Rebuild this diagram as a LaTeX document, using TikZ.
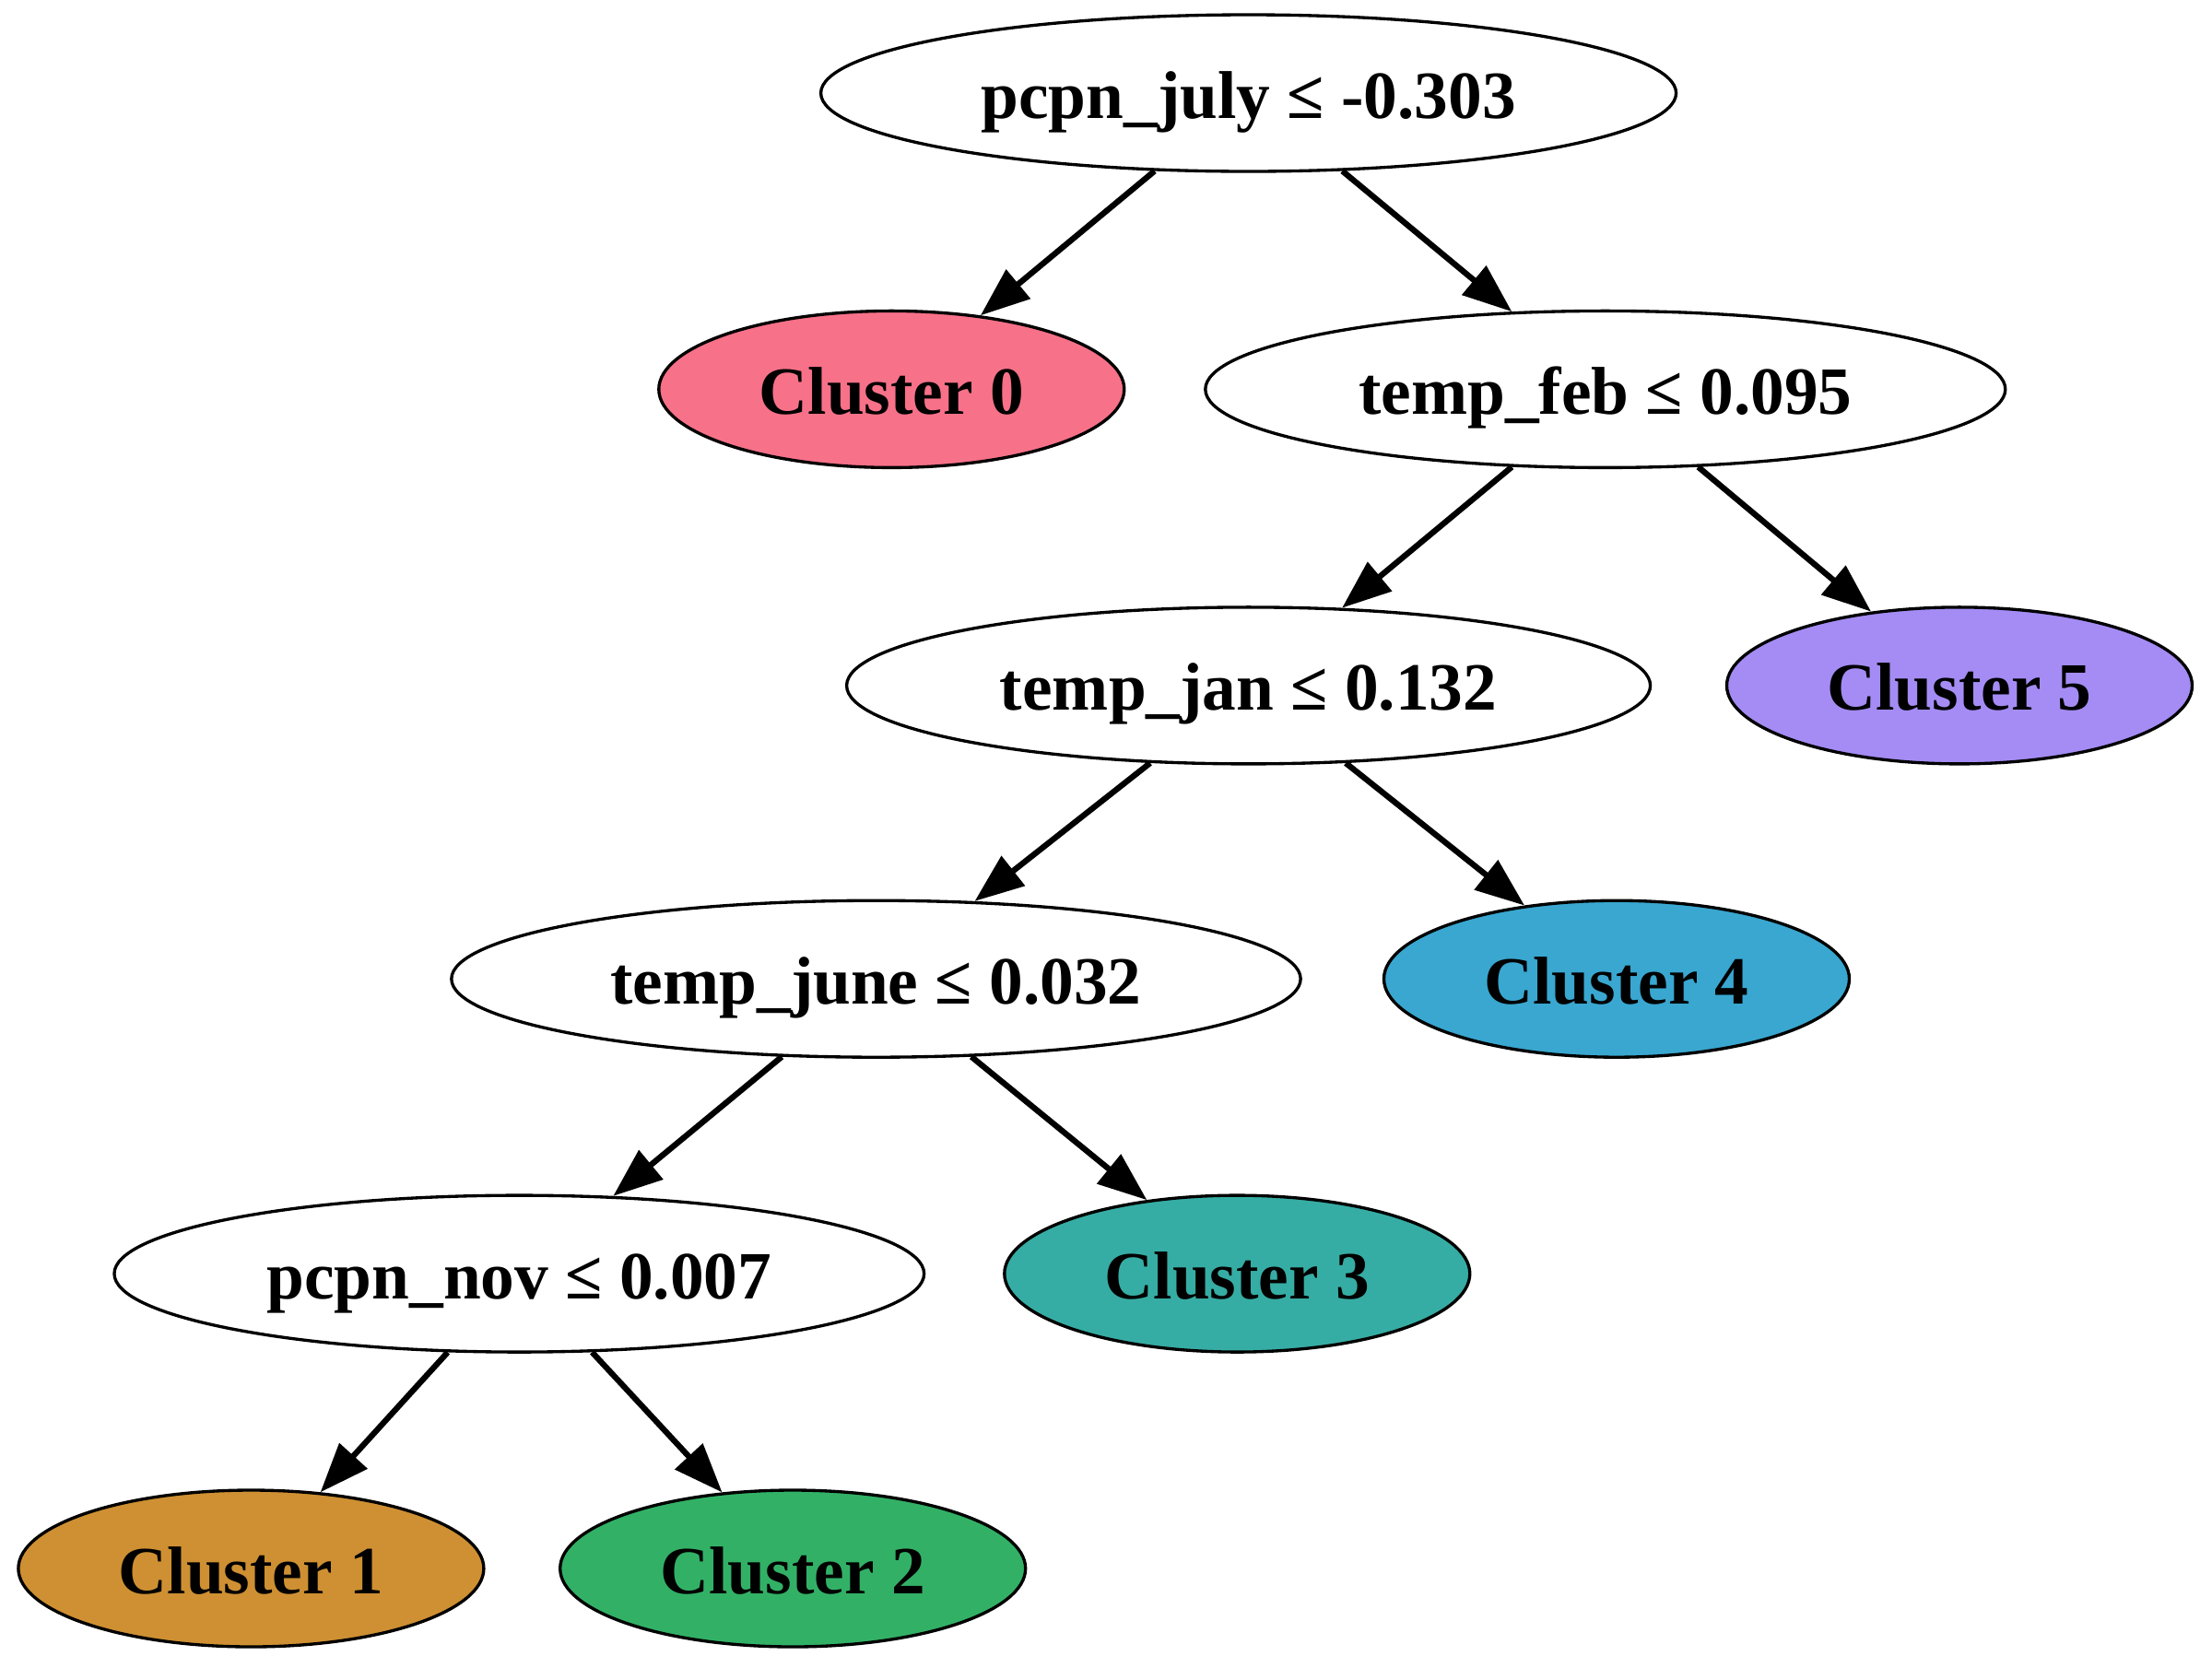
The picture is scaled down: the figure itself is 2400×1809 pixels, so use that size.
\documentclass[tikz,border=0pt]{standalone}
\usepackage{fontspec}
\setmainfont{Liberation Serif}
\usetikzlibrary{shapes.geometric,arrows.meta}
\definecolor{c0}{HTML}{F77189}
\definecolor{c1}{HTML}{CE9032}
\definecolor{c2}{HTML}{32B166}
\definecolor{c3}{HTML}{36ADA4}
\definecolor{c4}{HTML}{39A7D0}
\definecolor{c5}{HTML}{A48CF4}
\tikzset{
  tnode/.style={ellipse, draw=black, line width=1pt, inner sep=0pt,
    minimum height=51pt, text height=16.2pt, text depth=0pt,
    font=\fontsize{22}{26}\selectfont\bfseries},
  split/.style={tnode, fill=white},
  leaf/.style={tnode, minimum width=151.5pt},
  edge/.style={line width=1.9pt, -{Triangle[length=16pt,width=12pt]}},
}
\begin{document}
\begin{tikzpicture}[x=0.3pt,y=-0.3pt]
\useasboundingbox (0,0) rectangle (2400,1809);
\node[split, minimum width=278.4pt] (root) at (1354.6,101) {pcpn\_july ≤ -0.303};
\node[leaf, fill=c0] (k0) at (967.3,422.4) {Cluster 0};
\node[split, minimum width=260.4pt] (feb) at (1741.8,422.4) {temp\_feb ≤ 0.095};
\node[split, minimum width=261.6pt] (jan) at (1354.6,743.9) {temp\_jan ≤ 0.132};
\node[leaf, fill=c5] (k5) at (2126,743.9) {Cluster 5};
\node[split, minimum width=276.4pt] (june) at (950.5,1062.2) {temp\_june ≤ 0.032};
\node[leaf, fill=c4] (k4) at (1754,1062.2) {Cluster 4};
\node[split, minimum width=263.6pt] (nov) at (563.3,1382.1) {pcpn\_nov ≤ 0.007};
\node[leaf, fill=c3] (k3) at (1342.3,1382.1) {Cluster 3};
\node[leaf, fill=c1] (k1) at (272.4,1702) {Cluster 1};
\node[leaf, fill=c2] (k2) at (860.2,1702) {Cluster 2};
\draw[edge] (root) -- (k0);
\draw[edge] (root) -- (feb);
\draw[edge] (feb) -- (jan);
\draw[edge] (feb) -- (k5);
\draw[edge] (jan) -- (june);
\draw[edge] (jan) -- (k4);
\draw[edge] (june) -- (nov);
\draw[edge] (june) -- (k3);
\draw[edge] (nov) -- (k1);
\draw[edge] (nov) -- (k2);
\end{tikzpicture}
\end{document}
